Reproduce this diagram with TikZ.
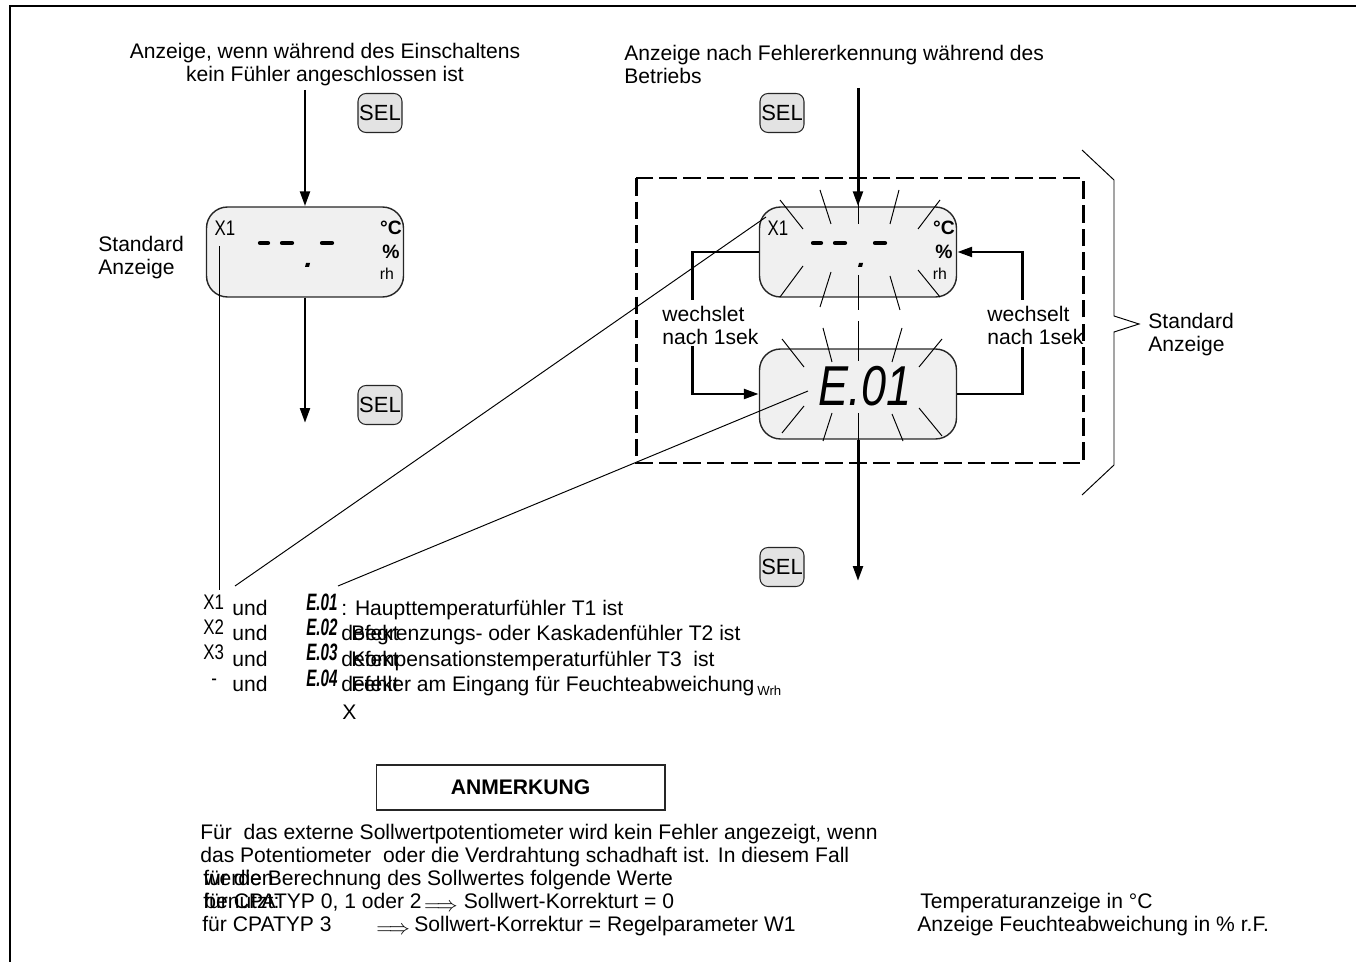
\documentclass[tikz,border=0pt]{standalone}
\usepackage{fontspec}
\setmainfont{Liberation Sans}
\usepackage{graphicx}
\usetikzlibrary{arrows.meta}

\newcommand{\segtxt}[1]{\scalebox{0.64}[1]{\bfseries\itshape #1}}
\newcommand{\narrowtxt}[1]{\scalebox{0.8}[1]{#1}}

\tikzset{
  lcd/.style={draw=black!85, fill=gray!12, line width=0.8pt, rounded corners=0.42cm,
    minimum width=3.94cm, minimum height=1.8cm},
  selkey/.style={draw=black!85, fill=gray!22, line width=0.6pt, rounded corners=0.16cm,
    minimum width=0.88cm, minimum height=0.78cm, inner sep=0pt, font=\fontsize{12.5}{12.5}\selectfont},
  flow/.style={line width=1.7pt, -{Triangle[length=8.5pt,width=5.5pt]}},
  wire/.style={line width=1.7pt},
  ray/.style={line width=0.55pt},
  seg/.style={line width=2.4pt, line cap=round},
  txt/.style={inner sep=0pt, font=\fontsize{12}{13}\selectfont},
  sym/.style={inner sep=0pt, font=\fontsize{11}{11}\selectfont},
}

\begin{document}
\begin{tikzpicture}[x=0.02cm, y=-0.02cm]
  \useasboundingbox (0,0) rectangle (1356,962);
  \draw[line width=1.6pt] (10,962) -- (10,6) -- (1356,6);

  % titles
  \node[txt, align=center, anchor=north] (ttlL) at (325,43) {Anzeige, wenn während des Einschaltens\\kein Fühler angeschlossen ist};
  \node[txt, align=left, anchor=north west] (ttlR) at (624,45) {Anzeige nach Fehlererkennung während des\\Betriebs};
  \node[txt, align=left, anchor=north west] (stdL) at (98,236) {Standard\\Anzeige};
  \node[txt, align=left, anchor=north west] (stdR) at (1148,313) {Standard\\Anzeige};

  % SEL keys
  \node[selkey] (selA) at (380,113) {SEL};
  \node[selkey] (selB) at (380,405) {SEL};
  \node[selkey] (selC) at (782,113) {SEL};
  \node[selkey] (selD) at (782,567) {SEL};

  % displays
  \node[lcd] (lcdL) at (305,252) {};
  \node[lcd] (lcdU) at (858,252) {};
  \node[lcd] (lcdE) at (858,394) {};

  \foreach \d in {lcdL,lcdU} {
    \begin{scope}[shift={(\d.center)}]
      \node[txt] (\d x) at (-80,-24) {\narrowtxt{X1}};
      \draw[seg] (-45,-9) -- (-37,-9) (-23,-9) -- (-13,-9) (17,-9) -- (27,-9);
      \fill (1,11) -- (5,11) -- (4,15) -- (0,15) -- cycle;
      \node[sym] (\d c) at (86,-24) {\textbf{°C}};
      \node[sym] (\d p) at (86,0) {\textbf{\%}};
      \node[sym, font=\fontsize{9}{9}\selectfont] (\d r) at (82,22) {rh};
    \end{scope}
  }
  \node[font=\fontsize{32}{32}\selectfont, inner sep=0pt] (eDisp) at (865,386) {\scalebox{0.8}[1]{\itshape E.01}};

  % flashing rays
  \begin{scope}[shift={(lcdU.center)}]
    \foreach \ax/\ay/\bx/\by in {-78/-52/-55/-23, -38/-62/-27/-28, 0/-62/0/-28, 41/-62/32/-28, 82/-52/60/-23,
                                 -55/14/-78/45, -27/20/-38/55, 0/23/0/58, 32/24/42/58, 60/18/82/45}
      \draw[ray] (\ax,\ay) -- (\bx,\by);
  \end{scope}
  \begin{scope}[shift={(lcdE.center)}]
    \foreach \ax/\ay/\bx/\by in {-76/-55/-54/-27, -35/-66/-26/-32, 0/-73/0/-33, 44/-66/34/-32, 84/-55/61/-27,
                                 -54/12/-76/39, -26/19/-35/47, 0/19/0/47, 34/20/45/47, 61/14/84/42}
      \draw[ray] (\ax,\ay) -- (\bx,\by);
  \end{scope}

  % main flow
  \coordinate (inL) at (305,90);
  \coordinate (outL) at (305,423);
  \coordinate (inR) at (858,88);
  \coordinate (outR) at (858,581);
  \draw[flow] (inL) -- (lcdL);
  \draw[flow] (lcdL) -- (outL);
  \draw[flow] (inR) -- (lcdU);
  \draw[flow] (lcdE) -- (outR);

  % alternating loop
  \coordinate (lpA) at (692,300);
  \coordinate (lpB) at (692,346);
  \coordinate (rpA) at (1022,300);
  \coordinate (rpB) at (1022,347);
  \draw[wire] (lcdU.west) -| (lpA);
  \draw[flow] (lpB) |- (lcdE.west);
  \draw[wire] (lcdE.east) -| (rpB);
  \draw[flow] (rpA) |- (lcdU.east);
  \node[txt, align=left, anchor=north west] (chgL) at (662,306) {wechslet\\nach 1sek};
  \node[txt, align=left, anchor=north west] (chgR) at (987,306) {wechselt\\nach 1sek};

  \draw[line width=1.7pt, dash pattern=on 10pt off 3.5pt] (636,178) rectangle (1083,463);
  \draw[ray] (1082,150) -- (1114,180) -- (1114,316) -- (1139,324) -- (1114,332) -- (1114,465) -- (1082,495);

  % legend
  \foreach \xl/\xx/\el/\yb [count=\n] in {X1/203/E.01/616, X2/203/E.02/641, X3/203/E.03/666, -/211/E.04/691} {
    \node[txt, anchor=base west] (lgX\n) at (\xx,\yb-6) {\narrowtxt{\xl}};
    \node[txt, anchor=base west] (lgU\n) at (232,\yb) {und};
    \node[txt, anchor=base west, font=\fontsize{13.5}{13.5}\selectfont] (lgE\n) at (306,\yb-5) {\segtxt{\el}};
  }
  \node[txt, anchor=base west] (dsc1) at (341,616) {: Haupttemperaturfühler T1 ist};
  \node[txt, anchor=base west] (def2) at (341,641) {defekt};
  \node[txt, anchor=base west] (dsc2) at (351,641) {Begrenzungs- oder Kaskadenfühler T2 ist};
  \node[txt, anchor=base west] (def3) at (341,666) {defekt};
  \node[txt, anchor=base west] (dsc3) at (351,666) {Kompensationstemperaturfühler T3\ \ ist};
  \node[txt, anchor=base west] (def4) at (341,691) {defekt};
  \node[txt, anchor=base west] (dsc4) at (351,691) {Fehler am Eingang für Feuchteabweichung};
  \node[txt, anchor=base west, font=\fontsize{7.5}{7.5}\selectfont] (wrh) at (757,695) {Wrh};
  \node[txt, anchor=base west] (lgXw) at (342,719) {X};

  \coordinate (pX) at (219,246);
  \coordinate (qX) at (219,590);
  \coordinate (qU) at (235,586);
  \coordinate (pU) at (766,217);
  \coordinate (qE) at (338,586);
  \coordinate (pE) at (808,391);
  \draw[ray] (pX) -- (qX);
  \draw[ray] (qU) -- (pU);
  \draw[ray] (qE) -- (pE);

  % note
  \node[draw=black!85, line width=0.6pt, minimum width=5.78cm, minimum height=0.9cm,
        font=\fontsize{12}{12}\selectfont\bfseries] (anm) at (520.5,787.5) {ANMERKUNG};
  \node[txt, anchor=base west] (nt1) at (200,839) {Für\ \ das externe Sollwertpotentiometer wird kein Fehler angezeigt, wenn};
  \node[txt, anchor=base west] (nt2) at (200,862) {das Potentiometer\ \ oder die Verdrahtung schadhaft ist. In diesem Fall};
  \node[txt, anchor=base west] (nt3a) at (204,885) {werden};
  \node[txt, anchor=base west] (nt3b) at (203,885) {für die Berechnung des Sollwertes folgende Werte};
  \node[txt, anchor=base west] (nt4a) at (204,908) {benutzt:};
  \node[txt, anchor=base west] (nt4b) at (203,908) {für CPATYP 0, 1 oder 2};
  \node[txt, anchor=base west] (ar4) at ([xshift=1pt, yshift=-2pt]nt4b.base east) {$\Longrightarrow$};
  \node[txt, anchor=base west] (nt4c) at ([xshift=3pt, yshift=2pt]ar4.base east) {Sollwert-Korrekturt = 0};
  \node[txt, anchor=base west] (nt5a) at (202,931) {für CPATYP 3};
  \node[txt, anchor=base west] (ar5) at (376,934) {$\Longrightarrow$};
  \node[txt, anchor=base west] (nt5b) at (414,931) {Sollwert-Korrektur = Regelparameter W1};

  \node[txt, anchor=base west] (unitT) at (920,908) {Temperaturanzeige in °C};
  \node[txt, anchor=base west] (unitF) at (917,931) {Anzeige Feuchteabweichung in \% r.F.};
\end{tikzpicture}
\end{document}
